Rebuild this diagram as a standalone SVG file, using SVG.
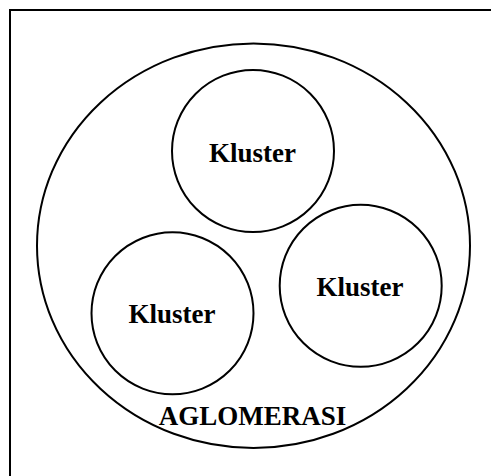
<svg xmlns="http://www.w3.org/2000/svg" width="491" height="476" viewBox="0 0 491 476">
<style>
.shape{fill:none;stroke:#000;stroke-width:2}
.lbl{font-family:"Liberation Serif","Times New Roman",serif;font-weight:bold;font-size:27px;fill:#000;text-anchor:middle}
</style>
<rect width="491" height="476" fill="#fff"/>
<rect class="shape" x="10" y="10" width="490" height="480"/>
<g id="aglomerasi">
<ellipse class="shape" cx="253.5" cy="245.7" rx="216.5" ry="202.3"/>
<text class="lbl" x="252.5" y="425">AGLOMERASI</text>
</g>
<g id="kluster-top">
<circle class="shape" cx="253" cy="151" r="81"/>
<text class="lbl" x="252.5" y="162">Kluster</text>
</g>
<g id="kluster-left">
<circle class="shape" cx="172.5" cy="313.3" r="81"/>
<text class="lbl" x="172" y="323">Kluster</text>
</g>
<g id="kluster-right">
<circle class="shape" cx="360.7" cy="285.8" r="81"/>
<text class="lbl" x="360" y="296">Kluster</text>
</g>
<g id="connectors"/>
</svg>
